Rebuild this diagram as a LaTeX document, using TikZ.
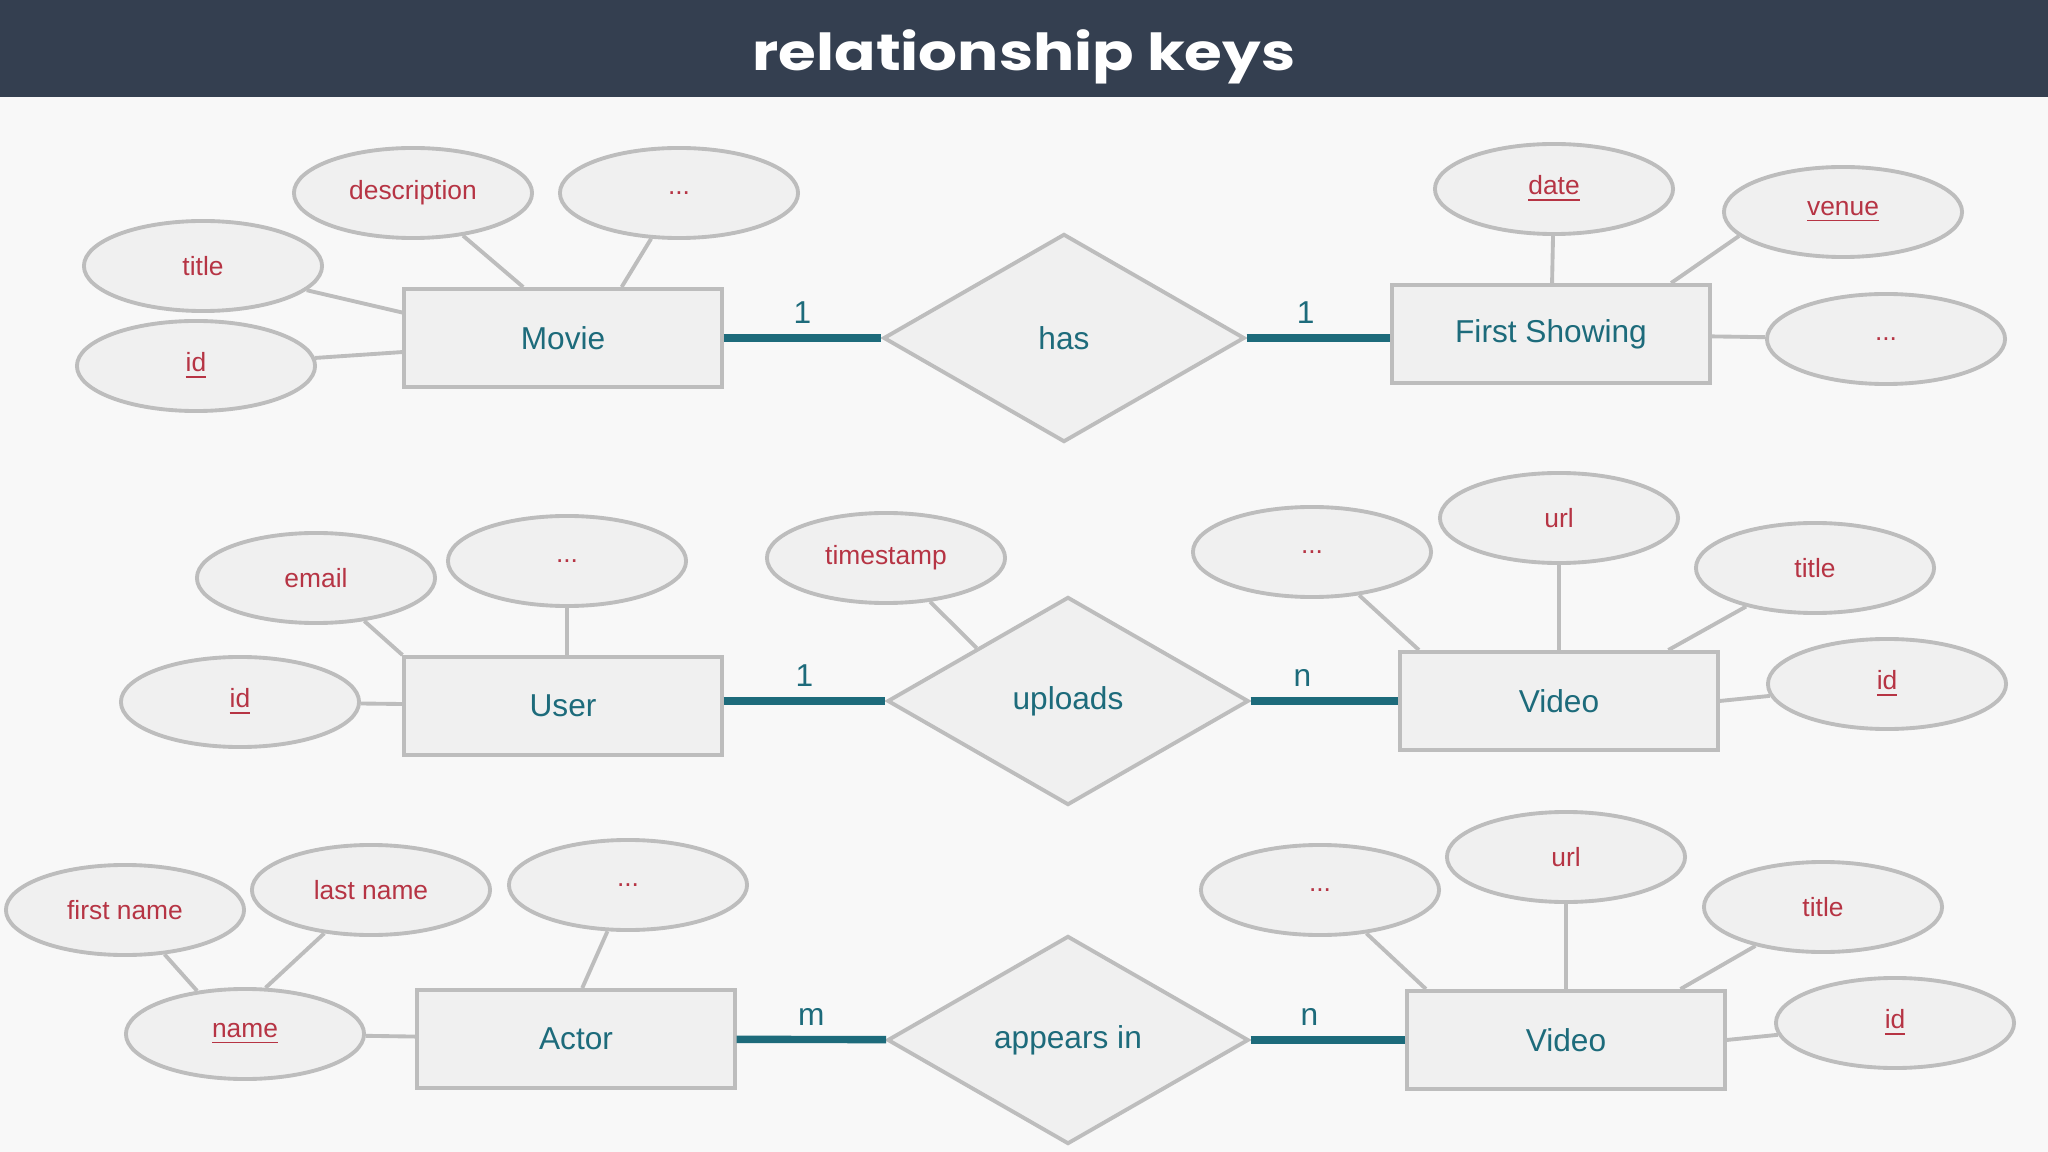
\documentclass[tikz,border=0pt]{standalone}
\usepackage{fontspec}
\setmainfont{Liberation Sans}
\newfontfamily\titlefont{Poppins}[FakeStretch=1.2]
\usepackage{tikz}
\usetikzlibrary{shapes.geometric, positioning}

\definecolor{headbg}{HTML}{343F50}
\definecolor{pagebg}{HTML}{F8F8F8}
\definecolor{boxfill}{HTML}{F0F0F0}
\definecolor{boxline}{HTML}{BDBDBD}
\definecolor{tealtxt}{HTML}{1D6B7B}
\definecolor{attrred}{HTML}{B63444}

\begin{document}
\begin{tikzpicture}[x=0.01cm, y=-0.01cm,
            entity/.style  ={rectangle, draw=boxline, fill=boxfill, line width=1.1pt,
                             minimum width=3.17cm, minimum height=0.98cm, text=tealtxt,
                             font=\fontsize{9}{11}\selectfont},
            relship/.style ={diamond, aspect=1.74, draw=boxline, fill=boxfill, line width=1.1pt,
                             minimum width=3.61cm, minimum height=2.08cm, inner sep=1pt,
                             text=tealtxt, font=\fontsize{9}{11}\selectfont},
            attr/.style    ={ellipse, draw=boxline, fill=boxfill, line width=1.1pt,
                             minimum width=2.38cm, minimum height=0.9cm, inner sep=0pt,
                             text=attrred, font=\fontsize{7.5}{9}\selectfont},
            attrline/.style={draw=boxline, line width=1.1pt},
            cardline/.style={draw=tealtxt, line width=2.1pt},
            card/.style    ={above, inner sep=3pt, text=tealtxt, font=\fontsize{9}{11}\selectfont}
        ]
            \useasboundingbox (0,0) rectangle (2048,1152);
            \fill[pagebg] (0,0) rectangle (2048,1152);
            \fill[headbg] (0,0) rectangle (2048,97);
            \node[anchor=base, text=white, font=\titlefont\bfseries\fontsize{14.5}{17}\selectfont]
                  (heading) at (1024,71) {relationship keys};

            % movie has first showing
            \node[entity]  (movie)   at (563,338)  {Movie};
            \node[relship] (has)     at (1064,338) {has};
            \node[entity]  (showing) at (1551,334) {First Showing};
            \node[attr] (mdesc)  at (413,193)  {description};
            \node[attr] (mmore)  at (679,193)  {...};
            \node[attr] (mtitle) at (203,266)  {title};
            \node[attr] (mid)    at (196,366)  {\underline{id}};
            \node[attr] (sdate)  at (1554,189) {\underline{date}};
            \node[attr] (svenue) at (1843,212) {\underline{venue}};
            \node[attr] (smore)  at (1886,339) {...};

            % user uploads video
            \node[entity]  (user)    at (563,706)  {User};
            \node[relship] (uploads) at (1068,701) {uploads};
            \node[entity]  (video)   at (1559,701) {Video};
            \node[attr] (uemail) at (316,578)  {email};
            \node[attr] (umore)  at (567,561)  {...};
            \node[attr] (uid)    at (240,702)  {\underline{id}};
            \node[attr] (tstamp) at (886,558)  {timestamp};
            \node[attr] (vmore)  at (1312,552) {...};
            \node[attr] (vurl)   at (1559,518) {url};
            \node[attr] (vtitle) at (1815,568) {title};
            \node[attr] (vid)    at (1887,684) {\underline{id}};

            % actor appears in video
            \node[entity]  (actor)   at (576,1039)  {Actor};
            \node[relship] (appears) at (1068,1040) {appears in};
            \node[entity]  (clip)    at (1566,1040) {Video};
            \node[attr] (afirst) at (125,910)   {first name};
            \node[attr] (alast)  at (371,890)   {last name};
            \node[attr] (amore)  at (628,885)   {...};
            \node[attr] (aname)  at (245,1034)  {\underline{name}};
            \node[attr] (cmore)  at (1320,890)  {...};
            \node[attr] (curl)   at (1566,857)  {url};
            \node[attr] (ctitle) at (1823,907)  {title};
            \node[attr] (cid)    at (1895,1023) {\underline{id}};

            \draw[cardline] (movie)   -- node[card]{1} (has);
            \draw[cardline] (has.east) -- node[card, pos=0.41]{1} (has.east -| showing.west);
            \draw[cardline] (uploads.west -| user.east) -- node[card]{1} (uploads.west);
            \draw[cardline] (uploads) -- node[card, pos=0.35]{n} (video);
            \draw[cardline] (actor)   -- node[card]{m} (appears);
            \draw[cardline] (appears) -- node[card, pos=0.38]{n} (clip);

            \draw[attrline] (mdesc)  -- (movie.128);
            \draw[attrline] (mmore)  -- (movie.41);
            \draw[attrline] (mtitle) -- (movie.171);
            \draw[attrline] (mid)    -- (movie.185);
            \draw[attrline] (sdate)  -- (showing);
            \draw[attrline] (svenue.193) -- (showing.23);
            \draw[attrline] (smore)  -- (showing);

            \draw[attrline] (uemail) -- (user.north west);
            \draw[attrline] (umore)  -- (umore |- user.north);
            \draw[attrline] (uid)    -- (user);
            \draw[attrline] (tstamp) -- (uploads.north west);
            \draw[attrline] (vmore)  -- (video.160);
            \draw[attrline] (vurl)   -- (video);
            \draw[attrline] (vtitle) -- (video.25);
            \draw[attrline] (vid)    -- (video.east);

            \draw[attrline] (afirst) -- (aname.138);
            \draw[attrline] (alast)  -- (aname.66);
            \draw[attrline] (amore)  -- (actor.83);
            \draw[attrline] (aname)  -- (actor);
            \draw[attrline] (cmore)  -- (clip.160);
            \draw[attrline] (curl)   -- (clip);
            \draw[attrline] (ctitle) -- (clip.24);
            \draw[attrline] (cid)    -- (clip.east);

        \end{tikzpicture}
\end{document}
